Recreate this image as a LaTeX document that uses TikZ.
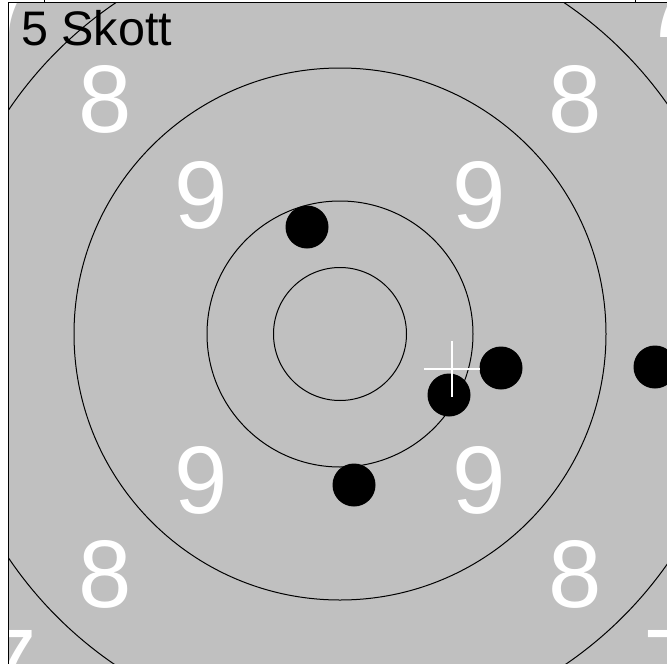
\documentclass[tikz,border=0pt]{standalone}
\usepackage{fontspec}
\setmainfont{Liberation Sans}
\definecolor{tgray}{RGB}{192,192,192}
\begin{document}
\begin{tikzpicture}[x=1pt,y=-1pt,
  ring/.style={draw=black,line width=1pt},
  shot/.style={fill=black},
  num/.style={text=white,font=\fontsize{96}{96}\selectfont,inner sep=0pt,anchor=center},
  title/.style={text=black,font=\fontsize{48.5}{48.5}\selectfont,inner sep=0pt,anchor=base west},
  aim/.style={draw=white,line width=2.5pt}]
\useasboundingbox (0,0) rectangle (667,664);
\fill[white] (0,0) rectangle (667,664);
\begin{scope}
\clip (8,2) rectangle (667,664);
\fill[tgray] (8,2) rectangle (667,664);
% sevens
\node[num] (s1) at (10,4) {7};
\node[num] (s2) at (670,4) {7};
\node[num] (s3) at (10,663) {7};
\node[num] (s4) at (670,663) {7};
% eights
\node[num] (e1) at (105,99) {8};
\node[num] (e2) at (575,99) {8};
\node[num] (e3) at (105,574) {8};
\node[num] (e4) at (575,574) {8};
% nines
\node[num] (n1) at (201,195) {9};
\node[num] (n2) at (479,195) {9};
\node[num] (n3) at (201,480) {9};
\node[num] (n4) at (479,480) {9};
\node[title] (t) at (21,45.5) {5 Skott};
% rings
\coordinate (c) at (340,334);
\draw[ring] (c) circle[radius=66.5pt];
\draw[ring] (c) circle[radius=133pt];
\draw[ring] (c) circle[radius=266pt];
\draw[ring] (c) circle[radius=400pt];
% shots
\fill[shot] (307,227) circle[radius=21.5pt];
\fill[shot] (354,485) circle[radius=21.5pt];
\fill[shot] (449,395) circle[radius=21.5pt];
\fill[shot] (501,368) circle[radius=21.5pt];
\fill[shot] (655,367) circle[radius=21.5pt];
% aim point
\coordinate (a) at (452,369);
\draw[aim] ([xshift=-28pt]a) -- ([xshift=28pt]a);
\draw[aim] ([yshift=-28pt]a) -- ([yshift=28pt]a);
\end{scope}
\draw[line width=1pt] (8,664) -- (8,2.5) -- (667,2.5);
\draw[line width=1pt] (44,0) -- (44,2.5);
\draw[line width=1pt] (635,0) -- (635,2.5);
\end{tikzpicture}
\end{document}
